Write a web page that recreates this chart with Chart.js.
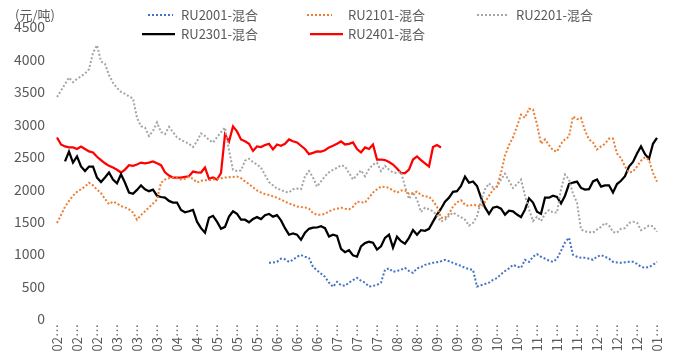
<!DOCTYPE html>
<html><head><meta charset="utf-8">
<script src="https://cdn.jsdelivr.net/npm/chart.js@4"></script>
<style>html,body{margin:0;padding:0;background:#fff}canvas{display:block}</style>
</head><body>
<canvas id="c" width="685" height="362"></canvas>
<script>
const unitLabel = '(元/吨)';
const seriesNames = ['RU2001-混合','RU2101-混合','RU2201-混合','RU2301-混合','RU2401-混合'];
const tickLabels = ['02-01','02-13','02-24','03-07','03-17','03-29','04-10','04-21','05-06','05-17','05-27',
  '06-08','06-19','06-29','07-10','07-20','07-31','08-10','08-21','09-01','09-12','09-22',
  '10-10','10-20','11-01','11-12','11-23','12-04','12-14','12-25','01-05'];
const yTickValues = [0,500,1000,1500,2000,2500,3000,3500,4000,4500];

const ru2001 = [
  null,null,null,null,null,null,null,null,null,null,
  null,null,null,null,null,null,null,null,null,null,
  null,null,null,null,null,null,null,null,null,null,
  null,null,null,null,null,null,null,null,null,null,
  null,null,null,null,null,null,null,null,null,null,
  null,null,null,866,870,881,930,920,880,912,
  960,985,960,940,804,750,700,650,560,495,
  572,520,510,560,600,634,590,560,500,510,
  526,560,760,780,727,740,760,788,740,711,
  780,800,835,850,866,875,890,912,890,866,
  840,820,788,770,757,500,520,540,560,603,
  630,690,740,780,835,810,788,912,880,960,
  1000,959,930,900,880,930,1050,1180,1252,989,
  960,943,943,930,912,960,985,960,930,881,
  870,866,875,881,881,850,804,790,800,835,
  881];
const ru2101 = [
  1480,1600,1730,1820,1900,1960,2000,2040,2100,2060,
  1994,1940,1850,1770,1809,1780,1740,1720,1690,1640,
  1530,1600,1660,1720,1780,1840,2100,2149,2170,2180,
  2170,2150,2160,2190,2160,2103,2130,2140,2140,2149,
  2160,2170,2180,2185,2190,2195,2170,2120,2080,2030,
  1980,1950,1925,1910,1890,1870,1840,1810,1780,1760,
  1732,1725,1720,1700,1630,1608,1608,1620,1660,1685,
  1700,1716,1700,1690,1730,1809,1800,1794,1870,1948,
  2000,2041,2035,2020,1980,1948,1980,1980,1930,1940,
  1963,1910,1886,1886,1820,1732,1560,1560,1620,1732,
  1800,1830,1760,1740,1763,1750,1732,1800,1900,1990,
  2041,2250,2520,2680,2800,2968,3150,3100,3240,3230,
  3000,2700,2767,2680,2600,2580,2700,2770,2810,3123,
  3080,3100,2900,2770,2720,2613,2660,2700,2780,2780,
  2550,2480,2350,2257,2270,2350,2440,2490,2450,2250,
  2118];
const ru2201 = [
  3420,3520,3620,3720,3650,3700,3740,3780,3850,4100,
  4220,3970,3930,3760,3640,3560,3500,3470,3430,3400,
  3100,2970,2950,2820,2900,3030,2880,2850,2960,2880,
  2800,2760,2730,2700,2650,2740,2860,2820,2760,2720,
  2800,2880,2950,2600,2300,2280,2290,2440,2470,2420,
  2380,2330,2220,2110,2060,2010,1990,1960,1950,2000,
  2010,2000,2200,2280,2180,2040,2120,2200,2260,2300,
  2330,2370,2350,2250,2150,2220,2290,2200,2310,2380,
  2410,2280,2360,2300,2260,2250,2270,2040,1850,1950,
  1840,1650,1716,1690,1660,1600,1500,1530,1590,1640,
  1600,1570,1530,1440,1480,1580,1820,2000,2090,2030,
  2040,2150,2240,2130,2020,2080,2150,1900,1690,1510,
  1577,1510,1620,1680,1640,1640,2000,2226,2150,1930,
  1794,1380,1350,1340,1330,1380,1420,1480,1440,1340,
  1330,1390,1400,1480,1500,1484,1370,1400,1440,1430,
  1345];
const ru2301 = [
  null,null,2430,2580,2411,2505,2350,2280,2350,2350,
  2180,2110,2180,2257,2149,2090,2230,2100,1950,1930,
  1990,2060,2000,1970,1994,1900,1880,1870,1820,1794,
  1794,1680,1645,1660,1680,1500,1400,1330,1560,1590,
  1500,1390,1420,1580,1660,1620,1530,1530,1490,1540,
  1570,1540,1600,1620,1577,1600,1520,1400,1299,1320,
  1300,1220,1330,1390,1407,1410,1430,1400,1270,1299,
  1280,1080,1030,1060,980,960,1120,1170,1190,1175,
  1070,1120,1250,1300,1100,1268,1200,1160,1250,1370,
  1299,1370,1360,1390,1500,1608,1700,1809,1870,1960,
  1970,2050,2195,2100,2120,2050,1870,1720,1620,1716,
  1730,1700,1608,1670,1660,1610,1570,1685,1860,1794,
  1654,1620,1870,1870,1900,1880,1780,1900,2080,2103,
  2118,2020,1994,2000,2120,2150,2040,2060,2060,1948,
  2080,2130,2200,2350,2420,2550,2660,2540,2470,2700,
  2790];
const ru2401 = [
  2798,2690,2660,2644,2644,2620,2659,2620,2582,2566,
  2500,2450,2400,2360,2334,2300,2257,2303,2370,2360,
  2380,2411,2400,2411,2427,2400,2370,2260,2210,2180,
  2180,2180,2190,2200,2272,2260,2257,2334,2160,2180,
  2150,2250,2845,2736,2968,2891,2767,2740,2700,2590,
  2659,2650,2680,2700,2613,2690,2670,2700,2767,2740,
  2721,2670,2620,2540,2560,2582,2580,2600,2644,2670,
  2700,2736,2690,2700,2721,2620,2566,2644,2620,2690,
  2458,2458,2450,2420,2380,2320,2250,2250,2303,2458,
  2505,2450,2400,2350,2650,2680,2644,null,null,null,
  null,null,null,null,null,null,null,null,null,null,
  null,null,null,null,null,null,null,null,null,null,
  null,null,null,null,null,null,null,null,null,null,
  null,null,null,null,null,null,null,null,null,null,
  null,null,null,null,null,null,null,null,null,null,
  null];

const colors = ['#4472C4','#ED7D31','#A5A5A5','#000000','#FF0000'];
const dashed = [true,true,true,false,false];
const seriesData = [ru2001, ru2101, ru2201, ru2301, ru2401];
const labelEvery = 5;
const categories = ru2101.map((_, i) => (i % labelEvery === 0 ? tickLabels[i / labelEvery] : ''));

const FONT = '"Noto Sans CJK SC", "Noto Sans", sans-serif';
const TEXT = '#595959';

const legendLayout = [
  {x0:148, x1:173, tx:181, y:15},
  {x0:307, x1:332, tx:348, y:15},
  {x0:477, x1:507, tx:516, y:15},
  {x0:142, x1:175, tx:181, y:34},
  {x0:310, x1:343, tx:348, y:34}
];

const decor = {
  id: 'decor',
  afterDraw(chart) {
    const ctx = chart.ctx;
    ctx.save();
    ctx.font = '13px ' + FONT;
    ctx.fillStyle = TEXT;
    ctx.textBaseline = 'middle';
    ctx.textAlign = 'left';
    ctx.fillText(unitLabel, 15, 15);
    ctx.font = '13px ' + FONT;
    chart.data.datasets.forEach((ds, k) => {
      const L = legendLayout[k];
      ctx.beginPath();
      ctx.strokeStyle = ds.borderColor;
      ctx.lineWidth = ds.borderWidth;
      ctx.setLineDash(ds.borderDash || []);
      ctx.moveTo(L.x0, L.y);
      ctx.lineTo(L.x1, L.y);
      ctx.stroke();
      ctx.setLineDash([]);
      ctx.fillStyle = TEXT;
      ctx.fillText(ds.label, L.tx, L.y);
    });
    ctx.restore();
  }
};

new Chart(document.getElementById('c'), {
  type: 'line',
  data: {
    labels: categories,
    datasets: seriesData.map((d, k) => ({
      label: seriesNames[k],
      data: d,
      borderColor: colors[k],
      backgroundColor: colors[k],
      borderWidth: dashed[k] ? 2 : 2.25,
      borderDash: dashed[k] ? [2, 2] : [],
      pointRadius: 0,
      tension: 0,
      fill: false,
      spanGaps: false
    }))
  },
  options: {
    responsive: false,
    animation: false,
    devicePixelRatio: 1,
    layout: { padding: { top: 27, right: 28, left: 0, bottom: 0 } },
    plugins: { legend: { display: false }, tooltip: { enabled: false } },
    scales: {
      x: {
        grid: { display: false, drawTicks: false },
        border: { display: false },
        ticks: {
          autoSkip: false, maxRotation: 90, minRotation: 90, padding: 5,
          color: TEXT, font: { family: FONT, size: 13 },
          callback: function (v) { const l = this.getLabelForValue(v); return l ? l.slice(0, 2) + '…' : ''; }
        },
        afterFit(s) { s.height = 43; }
      },
      y: {
        min: 0, max: 4500,
        grid: { display: false, drawTicks: false },
        border: { display: false },
        afterBuildTicks(s) { s.ticks = yTickValues.map(v => ({ value: v })); },
        ticks: { padding: 12, color: TEXT, font: { family: FONT, size: 14 }, callback: v => String(v) },
        afterFit(s) { s.width = 57; }
      }
    }
  },
  plugins: [decor]
});
</script>
</body></html>
